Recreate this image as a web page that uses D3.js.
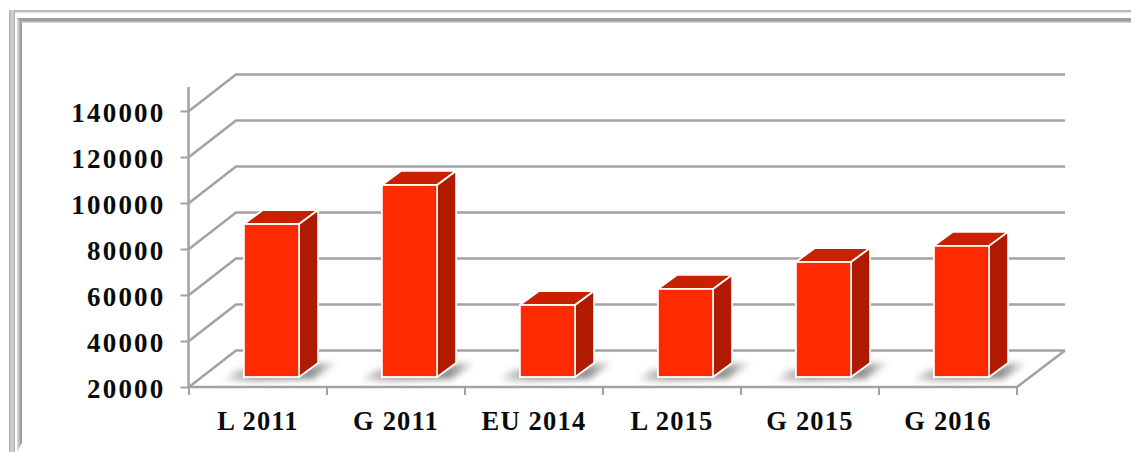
<!DOCTYPE html>
<html><head><meta charset="utf-8">
<script src="https://cdnjs.cloudflare.com/ajax/libs/d3/7.8.5/d3.min.js"></script>
<style>html,body{margin:0;padding:0;background:#fff}svg{display:block}
text{font-family:"Liberation Serif",serif;font-weight:bold;fill:#0a0a0a}</style></head><body>
<svg id="c" width="1131" height="452"></svg>
<script>
const categories=["L 2011","G 2011","EU 2014","L 2015","G 2015","G 2016"];
const values=[86500,103500,51300,58300,70000,77000];
const yTicks=[20000,40000,60000,80000,100000,120000,140000];
const W=1131,H=452;
const svg=d3.select("#c");
const y=d3.scaleLinear().domain([20000,140000]).range([387,111]);
const x=d3.scaleBand().domain(categories).range([189,1017]).paddingInner(0.6).paddingOuter(0.3);
const wallDX=47,wallDY=-36.5, barDX=19,barDY=-14, floorDX=13.5,floorDY=-10;
const defs=svg.append("defs");
function grad(id,x1,y1,x2,y2,stops){const g=defs.append("linearGradient").attr("id",id).attr("x1",x1).attr("y1",y1).attr("x2",x2).attr("y2",y2);
 stops.forEach(s=>g.append("stop").attr("offset",s[0]).attr("stop-color",s[1]));}
grad("fV",0,0,1,0,[[0,"#a8a8a8"],[.5,"#d8d8d8"],[1,"#b0b0b0"]]);
grad("iV",0,0,1,0,[[0,"#e0e0e0"],[.5,"#b8b8b8"],[1,"#8c8c8c"]]);
grad("iH",0,0,0,1,[[0,"#9a9a9a"],[.6,"#a0a0a0"],[1,"#e6e6e6"]]);
grad("oH",0,0,0,1,[[0,"#b4b4b4"],[1,"#c4c4c4"]]);
grad("sh",0,0,1,0,[[0,"#ffffff"],[.12,"#c8c8c8"],[.3,"#969696"],[.78,"#909090"],[1,"#ececec"]]);
defs.append("filter").attr("id","blur").attr("x","-20%").attr("y","-50%").attr("width","140%").attr("height","200%")
  .append("feGaussianBlur").attr("stdDeviation",3);
// frame
const frame=svg.append("g");
frame.append("rect").attr("x",9).attr("y",10).attr("width",W-9).attr("height",2.5).attr("fill","url(#oH)");
frame.append("rect").attr("x",9).attr("y",10).attr("width",6).attr("height",H-10).attr("fill","url(#fV)");
frame.append("rect").attr("x",17).attr("y",18).attr("width",W-17).attr("height",5).attr("fill","url(#iH)");
frame.append("path").attr("d",`M17,18 L22,23 L22,${H-9} L17,${H} Z`).attr("fill","url(#iV)");
// back wall + floor
const grid=svg.append("g").attr("fill","none").attr("stroke","#a2a2a2").attr("stroke-width",2.5);
yTicks.forEach(t=>{
 grid.append("path").attr("d",d3.line()([[189,y(t)],[189+wallDX,y(t)+wallDY],[1065,y(t)+wallDY]]));
});
grid.append("path").attr("d",d3.line()([[1065,y(20000)+wallDY],[1017,y(20000)]]));
// y axis
const ya=svg.append("g").attr("transform","translate(188.5,0)")
 .call(d3.axisLeft(y).tickValues(yTicks).tickFormat(d3.format("d")).tickSize(8).tickPadding(15));
ya.select(".domain").attr("d",`M0,87V${y(20000)}`).attr("stroke","#a2a2a2").attr("stroke-width",2.5).attr("fill","none");
ya.selectAll(".tick line").attr("stroke","#a2a2a2").attr("stroke-width",2);
ya.selectAll("text").style("font-size","27px").style("font-family",'"Liberation Serif"').style("font-weight","bold").style("letter-spacing","2.2px").attr("dy","0.38em").attr("fill","#0a0a0a");
// x axis
const xa=svg.append("g").attr("transform","translate(0,387)")
 .call(d3.axisBottom(x).tickSize(0).tickPadding(27));
xa.select(".domain").attr("d","M188,0H1018").attr("stroke","#a2a2a2").attr("stroke-width",2.5).attr("fill","none");
xa.selectAll("text").style("font-size","26.5px").style("font-family",'"Liberation Serif"').style("font-weight","bold").style("letter-spacing","1.2px").attr("dy","0.62em").attr("fill","#0a0a0a");
const edges=d3.range(categories.length+1).map(i=>189+i*x.step());
svg.append("g").selectAll("line").data(edges).join("line")
 .attr("x1",d=>d).attr("x2",d=>d).attr("y1",387).attr("y2",395).attr("stroke","#a2a2a2").attr("stroke-width",2);
// bars
const bars=svg.append("g").selectAll("g").data(categories.map((c,i)=>({c,v:values[i]}))).join("g")
 .attr("transform",d=>`translate(${x(d.c)+floorDX},${floorDY})`);
bars.append("path").attr("filter","url(#blur)").attr("fill","url(#sh)").attr("d",()=>{
 const w=x.bandwidth(),b=y(20000);
 return `M-22,${b+2} L-6,${b-7} L${w},${b-7} L${w+barDX},${b+barDY} L${w+38},${b+barDY} L${w+14},${b+2} L-14,${b+4} Z`;});
const pt=d=>({w:x.bandwidth(),t:y(d.v),b:y(20000)});
bars.append("path").attr("fill","#c92000").attr("stroke","#fff").attr("stroke-width",1.8).attr("stroke-linejoin","round")
 .attr("d",d=>{const p=pt(d);return `M0,${p.t} L${barDX},${p.t+barDY} L${p.w+barDX},${p.t+barDY} L${p.w},${p.t} Z`;});
bars.append("path").attr("fill","#b01a00").attr("stroke","#fff").attr("stroke-width",1.8).attr("stroke-linejoin","round")
 .attr("d",d=>{const p=pt(d);return `M${p.w},${p.t} L${p.w+barDX},${p.t+barDY} L${p.w+barDX},${p.b+barDY} L${p.w},${p.b} Z`;});
bars.append("rect").attr("fill","#ff2a00").attr("stroke","#fff").attr("stroke-width",1.8)
 .attr("x",0).attr("width",x.bandwidth()).attr("y",d=>y(d.v)).attr("height",d=>y(20000)-y(d.v));
</script></body></html>
